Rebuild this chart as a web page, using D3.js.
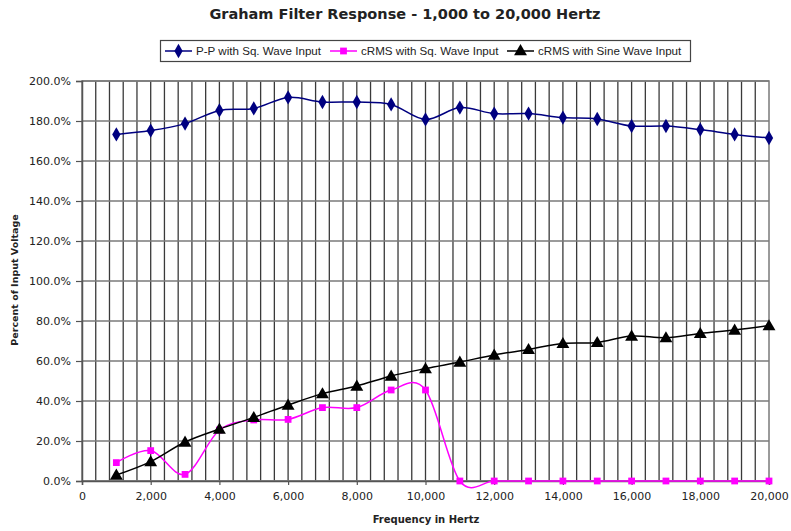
<!DOCTYPE html>
<html>
<head>
<meta charset="utf-8">
<script src="https://cdn.jsdelivr.net/npm/d3@7"></script>
<style>
body { margin: 0; background: #fff; }
text { font-family: "DejaVu Sans", Verdana, sans-serif; fill: #222; }
</style>
</head>
<body>
<div id="chart"></div>
<script>
var width = 791;
var height = 531;

// frequency in Hz
var freqs = [1000, 2000, 3000, 4000, 5000, 6000, 7000, 8000, 9000, 10000,
             11000, 12000, 13000, 14000, 15000, 16000, 17000, 18000, 19000, 20000];

// percent of input voltage (as fractions)
var ppSquare = [1.733, 1.752, 1.787, 1.853, 1.863, 1.918, 1.895, 1.895, 1.883, 1.808,
                1.867, 1.837, 1.837, 1.817, 1.810, 1.775, 1.775, 1.757, 1.733, 1.715];
var rmsSquare = [0.092, 0.152, 0.033, 0.255, 0.305, 0.308, 0.367, 0.367, 0.455, 0.455,
                 0.0, 0.0, 0.0, 0.0, 0.0, 0.0, 0.0, 0.0, 0.0, 0.0];
var rmsSine = [0.030, 0.097, 0.195, 0.260, 0.318, 0.380, 0.437, 0.475, 0.525, 0.562,
               0.595, 0.630, 0.658, 0.688, 0.693, 0.725, 0.717, 0.738, 0.755, 0.777];

var seriesNames = ["P-P with Sq. Wave Input", "cRMS with Sq. Wave Input", "cRMS with Sine Wave Input"];
var xTicks = [0, 2000, 4000, 6000, 8000, 10000, 12000, 14000, 16000, 18000, 20000];
var yTicks = [0, 0.2, 0.4, 0.6, 0.8, 1.0, 1.2, 1.4, 1.6, 1.8, 2.0];

var plotLeft = 82, plotRight = 769, plotTop = 81, plotBottom = 481;

var svg = d3.select("#chart").append("svg")
    .attr("width", width)
    .attr("height", height);

var xScale = d3.scaleLinear().domain([0, 20000]).range([plotLeft, plotRight]);
var yScale = d3.scaleLinear().domain([0, 2]).range([plotBottom, plotTop]);

// vertical gridlines every 400 Hz
var vgrid = d3.range(400, 20000, 400);
svg.append("g").selectAll("line")
    .data(vgrid)
    .enter()
    .append("line")
    .attr("x1", function(d) { return xScale(d); })
    .attr("x2", function(d) { return xScale(d); })
    .attr("y1", plotTop)
    .attr("y2", plotBottom)
    .attr("stroke", "#3a3a3a")
    .attr("stroke-width", 1.3);

// horizontal gridlines
svg.append("g").selectAll("line")
    .data(yTicks)
    .enter()
    .append("line")
    .attr("x1", plotLeft)
    .attr("x2", plotRight)
    .attr("y1", function(d) { return yScale(d); })
    .attr("y2", function(d) { return yScale(d); })
    .attr("stroke", "#7a7a7a")
    .attr("stroke-width", 1.5);

// plot border
svg.append("rect")
    .attr("x", plotLeft)
    .attr("y", plotTop)
    .attr("width", plotRight - plotLeft)
    .attr("height", plotBottom - plotTop)
    .attr("fill", "none")
    .attr("stroke", "#7a7a7a")
    .attr("stroke-width", 1.5);

// axes
var yAxis = svg.append("g")
    .attr("transform", "translate(" + plotLeft + ",0)")
    .call(d3.axisLeft(yScale).tickValues(yTicks).tickFormat(d3.format(".1%")).tickSize(6).tickPadding(5));
var xAxis = svg.append("g")
    .attr("transform", "translate(0," + plotBottom + ")")
    .call(d3.axisBottom(xScale).tickValues(xTicks).tickFormat(d3.format(",")).tickSize(4).tickPadding(7));

[yAxis, xAxis].forEach(function(a) {
    a.select(".domain").attr("stroke", "#555").attr("stroke-width", 1.5);
    a.selectAll(".tick line").attr("stroke", "#555").attr("stroke-width", 1.2);
    a.selectAll(".tick text")
        .style("font-family", "'DejaVu Sans', Verdana, sans-serif")
        .style("font-size", "11px")
        .attr("fill", "#333");
});

var curve = d3.curveCardinal.tension(0);
var line = d3.line()
    .x(function(d) { return xScale(d[0]); })
    .y(function(d) { return yScale(d[1]); })
    .curve(curve);

function pairs(values) {
    return freqs.map(function(f, i) { return [f, values[i]]; });
}

var colors = ["#000080", "#ff00ff", "#000000"];
var allSeries = [ppSquare, rmsSquare, rmsSine];

allSeries.forEach(function(vals, s) {
    svg.append("path")
        .datum(pairs(vals))
        .attr("d", line)
        .attr("fill", "none")
        .attr("stroke", colors[s])
        .attr("stroke-width", 1.5);
});

var diamond = d3.symbol().type(d3.symbolDiamond).size(60);
var square = d3.symbol().type(d3.symbolSquare).size(46);
var triangle = d3.symbol().type(d3.symbolTriangle).size(72);
var symbols = [diamond, square, triangle];

// draw pink squares, then navy diamonds, then triangles on top
[1, 0, 2].forEach(function(s) {
    svg.append("g").selectAll("path")
        .data(pairs(allSeries[s]))
        .enter()
        .append("path")
        .attr("transform", function(d) {
            var dy = s === 2 ? 1 : 0;
            return "translate(" + xScale(d[0]) + "," + (yScale(d[1]) + dy) + ")";
        })
        .attr("d", symbols[s])
        .attr("fill", colors[s]);
});

// title
svg.append("text")
    .attr("x", 405)
    .attr("y", 19)
    .attr("text-anchor", "middle")
    .style("font-size", "14.5px")
    .style("font-weight", "bold")
    .text("Graham Filter Response - 1,000 to 20,000 Hertz");

// axis titles
svg.append("text")
    .attr("x", 426)
    .attr("y", 523)
    .attr("text-anchor", "middle")
    .style("font-size", "10px")
    .style("font-weight", "bold")
    .text("Frequency in Hertz");

svg.append("text")
    .attr("transform", "translate(18,280) rotate(-90)")
    .attr("text-anchor", "middle")
    .style("font-size", "9.5px")
    .style("font-weight", "bold")
    .text("Percent of Input Voltage");

// legend
var legend = svg.append("g");
legend.append("rect")
    .attr("x", 160.5)
    .attr("y", 40.5)
    .attr("width", 530)
    .attr("height", 21)
    .attr("fill", "#fff")
    .attr("stroke", "#444")
    .attr("stroke-width", 1.2);

var legendX = [165, 330, 507];
seriesNames.forEach(function(name, s) {
    var g = legend.append("g").attr("transform", "translate(" + legendX[s] + ",51)");
    g.append("line")
        .attr("x1", 0).attr("x2", 27)
        .attr("y1", 0).attr("y2", 0)
        .attr("stroke", colors[s])
        .attr("stroke-width", 1.5);
    g.append("path")
        .attr("transform", "translate(13.5," + (s === 2 ? 0.5 : 0) + ")")
        .attr("d", symbols[s])
        .attr("fill", colors[s]);
    g.append("text")
        .attr("x", 31)
        .attr("y", 4)
        .style("font-family", "'Liberation Sans', Arial, sans-serif")
        .style("font-size", "11.6px")
        .text(name);
});
</script>
</body>
</html>
